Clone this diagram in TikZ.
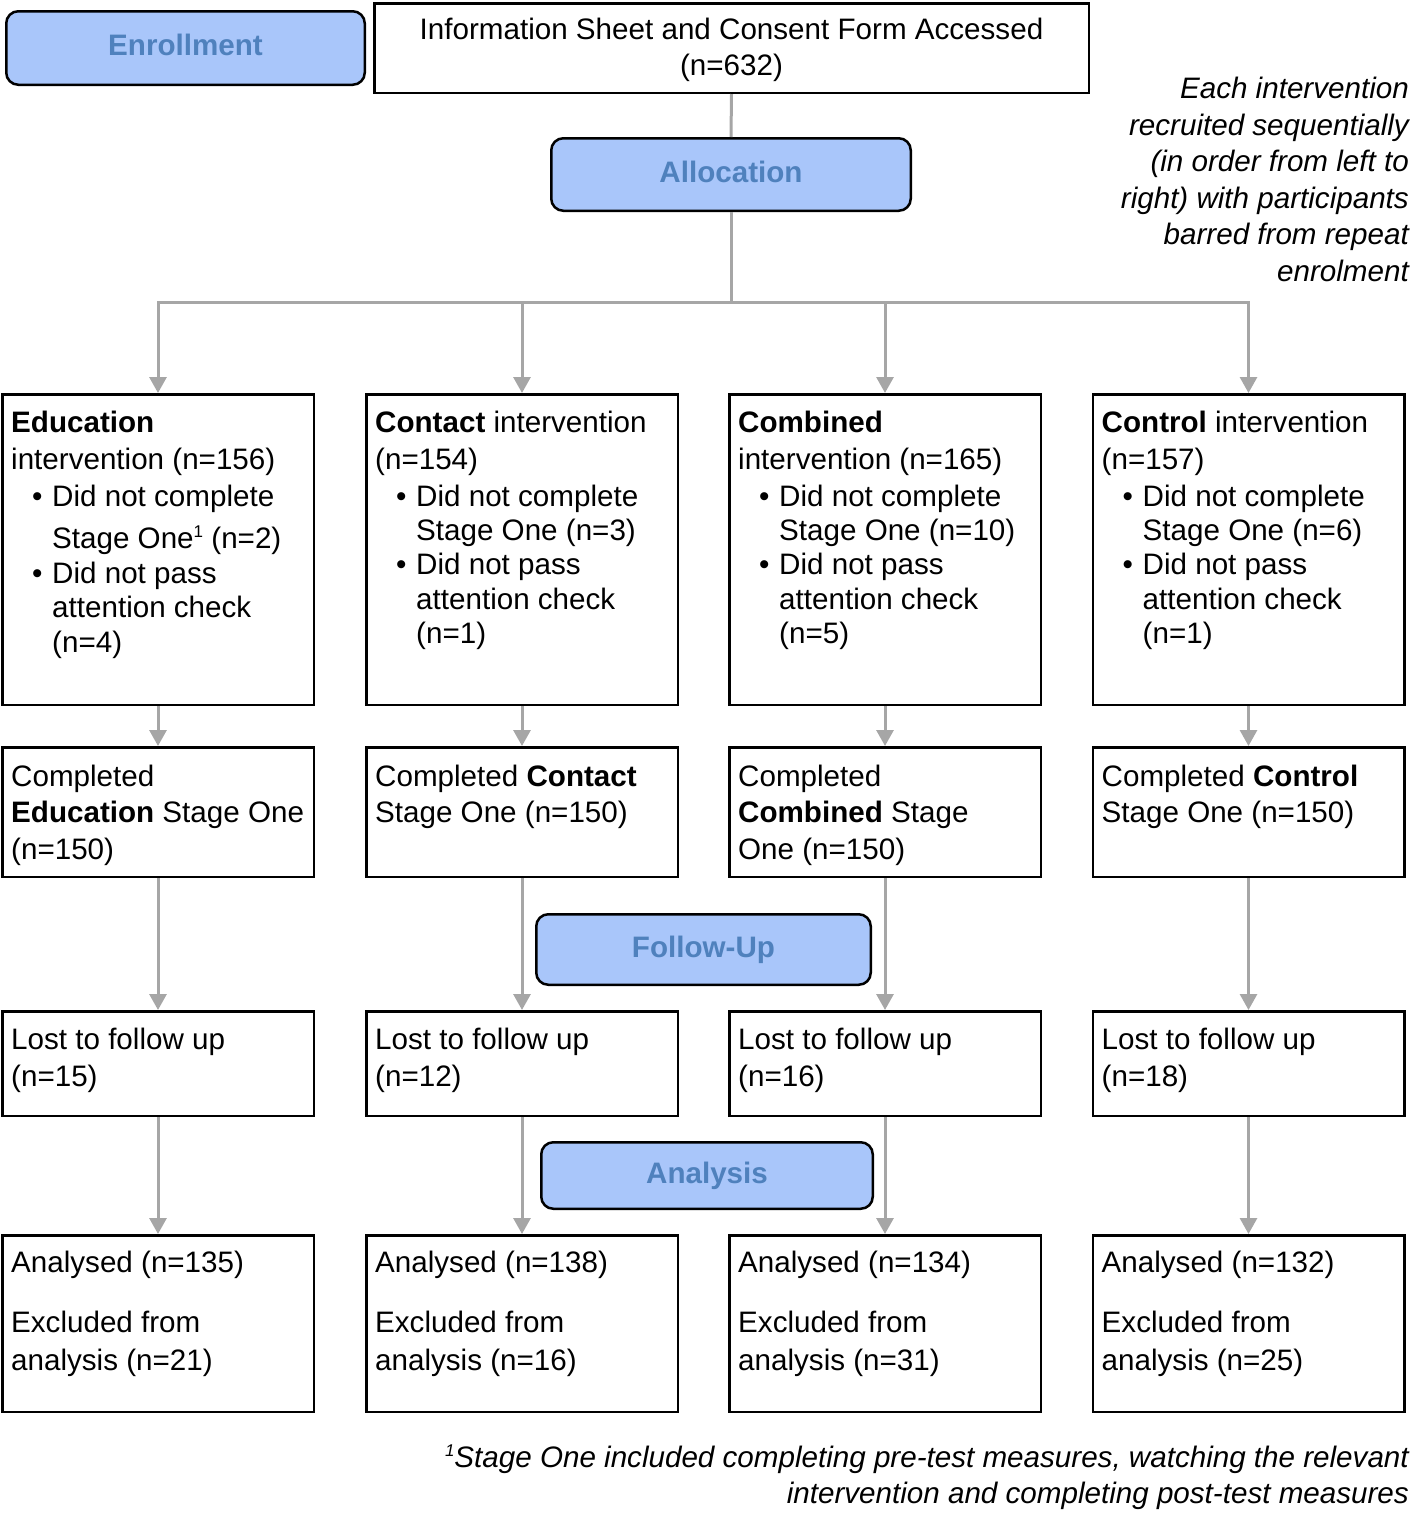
\documentclass[tikz,border=0pt]{standalone}
\usepackage{fontspec}
\setmainfont{Liberation Sans}
\usetikzlibrary{arrows.meta}
\definecolor{phasefill}{RGB}{169,198,250}
\definecolor{phasetext}{RGB}{79,129,189}
\definecolor{conngray}{RGB}{166,166,166}
\newcommand{\myblt}{\hspace*{21pt}\makebox[20pt][l]{\textbullet}}
\newcommand{\myind}{\hspace*{41pt}}
\newcommand{\mystrut}{\rule{0pt}{30pt}}
\newcommand{\mysup}{\raisebox{11pt}{\fontsize{17}{17}\selectfont 1}}
\begin{document}
\begin{tikzpicture}[x=1pt,y=-1pt,
  every node/.style={font=\fontsize{29.6}{37}\selectfont},
  phase/.style={draw=black,line width=2.5pt,fill=phasefill,rounded corners=12pt,
    inner sep=0pt,text=phasetext,text height=21pt,text depth=6pt,
    font=\fontsize{29.6}{37}\selectfont\bfseries},
  flowbox/.style={draw=black,line width=2.5pt,inner sep=0pt,minimum width=311.5pt},
  boxtext/.style={inner sep=0pt,align=left,anchor=north west},
  gline/.style={draw=conngray,line width=3pt},
  garrow/.style={draw=conngray,line width=3pt,-{Triangle[width=17pt,length=16pt]}},
  ]
\useasboundingbox (0,0) rectangle (1417,1513);

% header
\node[phase,minimum width=358.5pt,minimum height=73.5pt] (enr) at (185.5,48) {Enrollment};
\node[draw=black,line width=2.5pt,inner sep=0pt,minimum width=714.5pt,minimum height=89.5pt] (top) at (731.5,48) {};
\node[inner sep=0pt,align=center,font=\fontsize{29.6}{36}\selectfont] (toptext) at ([yshift=-2pt]top.center)
  {Information Sheet and Consent Form Accessed\\(n=632)};
\node[phase,minimum width=359.5pt,minimum height=72.5pt] (alloc) at (731,174.5) {Allocation};
\node[inner sep=0pt,align=right,anchor=base east,font=\fontsize{29.6}{36.6}\selectfont\itshape] (note) at (1409,281.5)
  {Each intervention\\recruited sequentially\\(in order from left to\\right) with participants\\barred from repeat\\enrolment};

% row 1
\node[flowbox,minimum height=310.5pt] (b11) at (158,549.5) {};
\node[flowbox,minimum height=310.5pt] (b12) at (522,549.5) {};
\node[flowbox,minimum height=310.5pt] (b13) at (885,549.5) {};
\node[flowbox,minimum height=310.5pt] (b14) at (1248.5,549.5) {};
% row 2
\node[flowbox,minimum height=129.5pt] (b21) at (158,812) {};
\node[flowbox,minimum height=129.5pt] (b22) at (522,812) {};
\node[flowbox,minimum height=129.5pt] (b23) at (885,812) {};
\node[flowbox,minimum height=129.5pt] (b24) at (1248.5,812) {};
% row 3
\node[flowbox,minimum height=104.5pt] (b31) at (158,1063.5) {};
\node[flowbox,minimum height=104.5pt] (b32) at (522,1063.5) {};
\node[flowbox,minimum height=104.5pt] (b33) at (885,1063.5) {};
\node[flowbox,minimum height=104.5pt] (b34) at (1248.5,1063.5) {};
% row 4
\node[flowbox,minimum height=176.5pt] (b41) at (158,1323.5) {};
\node[flowbox,minimum height=176.5pt] (b42) at (522,1323.5) {};
\node[flowbox,minimum height=176.5pt] (b43) at (885,1323.5) {};
\node[flowbox,minimum height=176.5pt] (b44) at (1248.5,1323.5) {};

% phase labels
\node[phase,minimum width=334.5pt,minimum height=70.5pt] (fup) at (703.5,949.5) {Follow-Up};
\node[phase,minimum width=331.5pt,minimum height=66.5pt] (ana) at (707,1175.5) {Analysis};

% texts row 1
\node[boxtext] (t11) at ([xshift=10pt,yshift=-9.5pt]b11.north west)
  {\mystrut\textbf{Education}\\intervention (n=156)\\\myblt Did not complete\\[5pt]
   \myind Stage One\mysup\ (n=2)\\[-2pt]
   \myblt Did not pass\\[-3pt]\myind attention check\\[-2pt]\myind (n=4)};
\node[boxtext] (t12) at ([xshift=10pt,yshift=-9.5pt]b12.north west)
  {\mystrut\textbf{Contact} intervention\\(n=154)\\\myblt Did not complete\\[-3pt]
   \myind Stage One (n=3)\\[-3pt]
   \myblt Did not pass\\[-2pt]\myind attention check\\[-3pt]\myind (n=1)};
\node[boxtext] (t13) at ([xshift=10pt,yshift=-9.5pt]b13.north west)
  {\mystrut\textbf{Combined}\\intervention (n=165)\\\myblt Did not complete\\[-3pt]
   \myind Stage One (n=10)\\[-3pt]
   \myblt Did not pass\\[-2pt]\myind attention check\\[-3pt]\myind (n=5)};
\node[boxtext] (t14) at ([xshift=10pt,yshift=-9.5pt]b14.north west)
  {\mystrut\textbf{Control} intervention\\(n=157)\\\myblt Did not complete\\[-3pt]
   \myind Stage One (n=6)\\[-3pt]
   \myblt Did not pass\\[-2pt]\myind attention check\\[-3pt]\myind (n=1)};

% texts row 2
\node[boxtext] (t21) at ([xshift=10pt,yshift=-10.5pt]b21.north west)
  {\mystrut Completed\\[-1pt]\textbf{Education} Stage One\\(n=150)};
\node[boxtext] (t22) at ([xshift=10pt,yshift=-10.5pt]b22.north west)
  {\mystrut Completed \textbf{Contact}\\[-1pt]Stage One (n=150)};
\node[boxtext] (t23) at ([xshift=10pt,yshift=-10.5pt]b23.north west)
  {\mystrut Completed\\[-1pt]\textbf{Combined} Stage\\One (n=150)};
\node[boxtext] (t24) at ([xshift=10pt,yshift=-10.5pt]b24.north west)
  {\mystrut Completed \textbf{Control}\\[-1pt]Stage One (n=150)};

% texts row 3
\node[boxtext] (t31) at ([xshift=10pt,yshift=-9.5pt]b31.north west) {\mystrut Lost to follow up\\(n=15)};
\node[boxtext] (t32) at ([xshift=10pt,yshift=-9.5pt]b32.north west) {\mystrut Lost to follow up\\(n=12)};
\node[boxtext] (t33) at ([xshift=10pt,yshift=-9.5pt]b33.north west) {\mystrut Lost to follow up\\(n=16)};
\node[boxtext] (t34) at ([xshift=10pt,yshift=-9.5pt]b34.north west) {\mystrut Lost to follow up\\(n=18)};

% texts row 4
\node[boxtext] (t41) at ([xshift=10pt,yshift=-8.5pt]b41.north west) {\mystrut Analysed (n=135)\\[23pt]Excluded from\\[1pt]analysis (n=21)};
\node[boxtext] (t42) at ([xshift=10pt,yshift=-8.5pt]b42.north west) {\mystrut Analysed (n=138)\\[23pt]Excluded from\\[1pt]analysis (n=16)};
\node[boxtext] (t43) at ([xshift=10pt,yshift=-8.5pt]b43.north west) {\mystrut Analysed (n=134)\\[23pt]Excluded from\\[1pt]analysis (n=31)};
\node[boxtext] (t44) at ([xshift=10pt,yshift=-8.5pt]b44.north west) {\mystrut Analysed (n=132)\\[23pt]Excluded from\\[1pt]analysis (n=25)};

% footnote
\node[inner sep=0pt,align=right,anchor=base east,font=\fontsize{29.6}{36}\selectfont\itshape] (foot) at (1409,1503.5)
  {\mysup Stage One included completing pre-test measures, watching the relevant\\intervention and completing post-test measures};

% connectors
\coordinate (split) at (731,302);
\draw[gline] (top.south) -- (alloc.north);
\draw[gline] (alloc.south) -- (split);
\draw[garrow] (split) -| (b11.north);
\draw[garrow] (split) -| (b12.north);
\draw[garrow] (split) -| (b13.north);
\draw[garrow] (split) -| (b14.north);
\foreach \c in {1,2,3,4}{
  \draw[garrow] (b1\c.south) -- (b2\c.north);
  \draw[garrow] (b2\c.south) -- (b3\c.north);
  \draw[garrow] (b3\c.south) -- (b4\c.north);
}
\end{tikzpicture}
\end{document}
